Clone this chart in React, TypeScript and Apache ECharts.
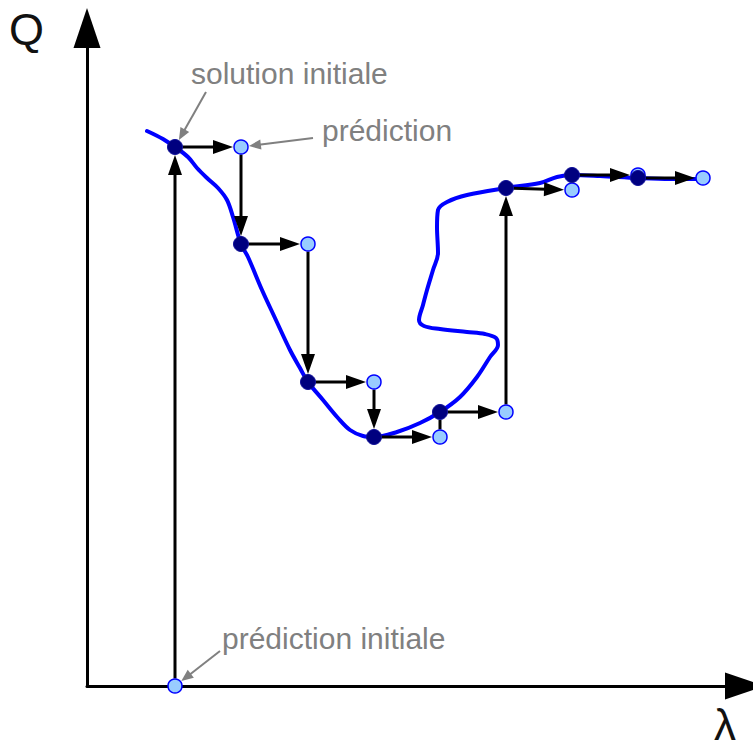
import React, { useEffect, useRef } from 'react';
import * as echarts from 'echarts';

// Natural continuation on Q(λ): axis units are λ and Q offsets from the origin.
const solutions: [number, number][] = [
  [88, 539], [154, 442], [221, 304], [287, 249],
  [353, 274], [419, 498], [485, 511], [551, 508],
];
const predictions: [number, number][] = [
  [88, 0], [154, 539], [221, 442], [287, 304], [353, 249],
  [419, 274], [485, 496], [551, 511], [616, 508],
];
// Solution branch (with its fold) traced through the λ–Q plane
const branch: [number, number][] = [
  [60, 555], [76, 547], [88, 539], [101, 529], [110, 518], [120, 508],
  [131, 498], [140, 486], [146, 469], [154, 442], [161, 429], [175, 396],
  [188, 368], [203, 336], [213, 318], [221, 304], [236, 286], [251, 268],
  [263, 256], [276, 250], [287, 249], [310, 254], [333, 263], [353, 274],
  [373, 289], [390, 309], [403, 329], [411, 341], [409, 348], [398, 352],
  [380, 354], [353, 357], [337, 360], [332, 366], [336, 381], [340, 396],
  [346, 416], [351, 433], [350, 459], [351, 476], [360, 484], [380, 491],
  [419, 498], [453, 503], [470, 509], [485, 511], [513, 510], [551, 508],
  [583, 507], [616, 507],
];
const labels = ['solution initiale', 'prédiction', 'prédiction initiale'];
const axisNames = ['λ', 'Q'];

const FONT = "'Liberation Sans', Arial, sans-serif";
const GRAY = '#808080';

export default function App() {
  const ref = useRef<HTMLDivElement>(null);

  useEffect(() => {
    const chart = echarts.init(ref.current!, null, { renderer: 'svg' });

    // predictor (horizontal) and corrector (vertical) steps: P0→S0→P1→S1→…
    const steps: number[][] = [];
    for (let i = 0; i < solutions.length; i++) {
      steps.push([...predictions[i], ...solutions[i]]);
      steps.push([...solutions[i], ...predictions[i + 1]]);
    }

    // callouts: which point each label refers to, and where the label sits (px)
    const callouts = [
      { text: labels[0], at: solutions[0], tail: [31, -55], label: [16, -74] },
      { text: labels[1], at: predictions[1], tail: [72, -9], label: [81, -17] },
      { text: labels[2], at: predictions[0], tail: [45, -35], label: [47, -48] },
    ];

    const arrowItem = (
      a: number[], b: number[], trimA: number, trimB: number,
      headL: number, headW: number, color: string, width: number,
    ) => {
      const dx = b[0] - a[0];
      const dy = b[1] - a[1];
      const len = Math.hypot(dx, dy);
      const children: any[] = [];
      if (len - trimA - trimB <= 0.5) return children;
      const ux = dx / len;
      const uy = dy / len;
      const s = [a[0] + ux * trimA, a[1] + uy * trimA];
      const tip = [b[0] - ux * trimB, b[1] - uy * trimB];
      const avail = len - trimA - trimB;
      if (avail > headL + 3) {
        const base = [tip[0] - ux * headL, tip[1] - uy * headL];
        children.push({
          type: 'line',
          shape: { x1: s[0], y1: s[1], x2: base[0] + ux * 2, y2: base[1] + uy * 2 },
          style: { stroke: color, lineWidth: width },
        });
        children.push({
          type: 'polygon',
          shape: {
            points: [
              tip,
              [base[0] - uy * headW, base[1] + ux * headW],
              [base[0] + uy * headW, base[1] - ux * headW],
            ],
          },
          style: { fill: color },
        });
      } else {
        children.push({
          type: 'line',
          shape: { x1: s[0], y1: s[1], x2: tip[0], y2: tip[1] },
          style: { stroke: color, lineWidth: width },
        });
      }
      return children;
    };

    const axisCommon = {
      type: 'value' as const,
      min: 0,
      max: 658,
      axisLine: {
        show: true,
        onZero: false,
        symbol: ['none', 'triangle'],
        symbolSize: [27, 40],
        lineStyle: { color: '#000', width: 3 },
      },
      axisTick: { show: false },
      axisLabel: { show: false },
      splitLine: { show: false },
    };

    chart.setOption({
      animation: false,
      backgroundColor: '#fff',
      grid: { left: 87, right: 8, top: 28, bottom: 61, containLabel: false },
      xAxis: axisCommon,
      yAxis: axisCommon,
      series: [
        {
          type: 'line',
          data: branch,
          showSymbol: false,
          smooth: 0.35,
          z: 2,
          lineStyle: { color: '#0000ff', width: 4, cap: 'round', join: 'round' },
          silent: true,
        },
        {
          type: 'custom',
          z: 3,
          data: steps,
          encode: { x: [0, 2], y: [1, 3] },
          renderItem: (_p: any, api: any) => {
            const a = api.coord([api.value(0), api.value(1)]);
            const b = api.coord([api.value(2), api.value(3)]);
            return { type: 'group', children: arrowItem(a, b, 7.5, 8, 20, 7, '#000', 3) };
          },
          silent: true,
        },
        {
          type: 'scatter',
          z: 4,
          data: predictions,
          symbolSize: 14,
          itemStyle: { color: '#99ccff', borderColor: '#0000ff', borderWidth: 1.5, opacity: 1 },
          silent: true,
        },
        {
          type: 'scatter',
          z: 5,
          data: solutions,
          symbolSize: 15,
          itemStyle: { color: '#00007f', borderColor: '#10109a', borderWidth: 1, opacity: 1 },
          silent: true,
        },
        {
          type: 'custom',
          z: 6,
          data: callouts.map((c) => c.at),
          encode: { x: 0, y: 1 },
          renderItem: (p: any, api: any) => {
            const c = callouts[p.dataIndex];
            const pt = api.coord([api.value(0), api.value(1)]);
            const tail = [pt[0] + c.tail[0], pt[1] + c.tail[1]];
            return {
              type: 'group',
              children: [
                ...arrowItem(tail, pt, 0, 8, 12, 5, GRAY, 2),
                {
                  type: 'text',
                  x: pt[0] + c.label[0],
                  y: pt[1] + c.label[1],
                  style: {
                    text: c.text,
                    fill: GRAY,
                    font: `30px ${FONT}`,
                    textAlign: 'left',
                    textVerticalAlign: 'middle',
                  },
                },
              ],
            };
          },
          silent: true,
        },
      ],
      graphic: [
        {
          type: 'text',
          left: 9,
          top: 7,
          style: { text: axisNames[1], fill: '#111', font: `45px ${FONT}` },
        },
        {
          type: 'text',
          left: 714,
          top: 702,
          style: { text: axisNames[0], fill: '#111', font: `44px ${FONT}`, lineHeight: 44 },
        },
      ],
    });

    return () => chart.dispose();
  }, []);

  return (
    <div
      ref={ref}
      style={{ position: 'absolute', left: 0, top: 0, width: 753, height: 747 }}
    />
  );
}
